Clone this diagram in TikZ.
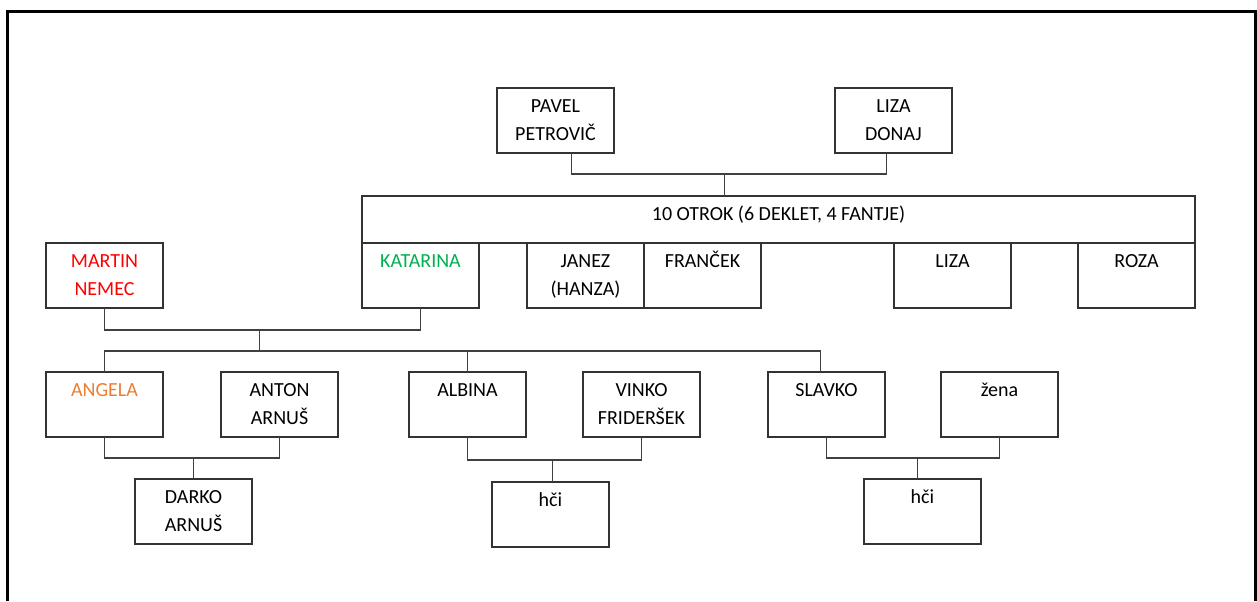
\documentclass[tikz,border=0pt]{standalone}
\usepackage{fontspec}
\setmainfont{Carlito}
\usetikzlibrary{calc,positioning}
\definecolor{rdeca}{HTML}{FF0000}
\definecolor{zelena}{HTML}{00B050}
\definecolor{oranzna}{HTML}{ED7D31}

\begin{document}
\begin{tikzpicture}[
    x = 0.5pt, y = -0.5pt, % one unit = one pixel of the sketch
    font = \fontsize{10pt}{14pt}\selectfont,
    link/.style = {draw = black!75, line width = 0.55pt}
    ]

    \tikzset{polje/.style 2 args={
    draw = black!80,
    line width = 0.7pt,
    inner sep = 0pt,
    outer sep = 0pt,
    anchor = north west,
    execute at begin node = {\begin{minipage}[t][#2][t]{#1}\centering\rule{0pt}{12pt}},
    execute at end node = {\end{minipage}}
    },
    oseba/.style={polje={58.5pt}{32.5pt}},
    otroci/.style={polje={416.5pt}{23.5pt}}
    }

    \useasboundingbox (0,0) rectangle (1257,601);
    \draw[line width = 1.5pt] (7,601) -- (7,11) -- (1255,11) -- (1255,601);

    % parents
    \node[oseba] (pavel) at (497,88) {PAVEL\\PETROVIČ};
    \node[oseba] (donaj) at (835,88) {LIZA\\DONAJ};
    \node[otroci] (otroci) at (362,196) {10 OTROK (6 DEKLET, 4 FANTJE)};

    % children
    \node[oseba, text = zelena] (katarina) at (362,243) {KATARINA};
    \node[oseba] (janez) at (527,243) {JANEZ\\(HANZA)};
    \node[oseba, right = 0pt of janez] (francek) {FRANČEK};
    \node[oseba] (liza) at (894,243) {LIZA};
    \node[oseba] (roza) at (1078,243) {ROZA};
    \node[oseba, text = rdeca] (martin) at (46,243) {MARTIN\\NEMEC};

    % grandchildren
    \node[oseba, text = oranzna] (angela) at (46,372) {ANGELA};
    \node[oseba] (anton) at (221,372) {ANTON\\ARNUŠ};
    \node[oseba] (albina) at (409,372) {ALBINA};
    \node[oseba] (vinko) at (583,372) {VINKO\\FRIDERŠEK};
    \node[oseba] (slavko) at (768,372) {SLAVKO};
    \node[oseba] (zena) at (941,372) {žena};
    \node[oseba] (darko) at (135,479) {DARKO\\ARNUŠ};
    \node[oseba] (hci1) at (492,482) {hči};
    \node[oseba] (hci2) at (864,479) {hči};

    \draw[link] ([xshift=8pt]pavel.south) -- ++(0,21) -| ([xshift=-3.5pt]donaj.south);
    \draw[link] ([xshift=-27pt]otroci.north) -- ++(0,-22);

    \draw[link] (martin.south) -- ++(0,22) -| (katarina.south);
    \draw[link] ($(martin.south)!0.49!(katarina.south)$) ++(0,22) -- ++(0,22);
    \draw[link] (angela.north) -- ++(0,-21) -| ([xshift=-3pt]slavko.north);
    \draw[link] (albina.north) -- ++(0,-21);

    \draw[link] (angela.south) -- ++(0,21) -| (anton.south);
    \draw[link] (darko.north) -- ++(0,-21);
    \draw[link] (albina.south) -- ++(0,23) -| (vinko.south);
    \draw[link] ([xshift=1pt]hci1.north) -- ++(0,-22);
    \draw[link] (slavko.south) -- ++(0,21) -| (zena.south);
    \draw[link] ([xshift=-2.5pt]hci2.north) -- ++(0,-21);
\end{tikzpicture}
\end{document}
